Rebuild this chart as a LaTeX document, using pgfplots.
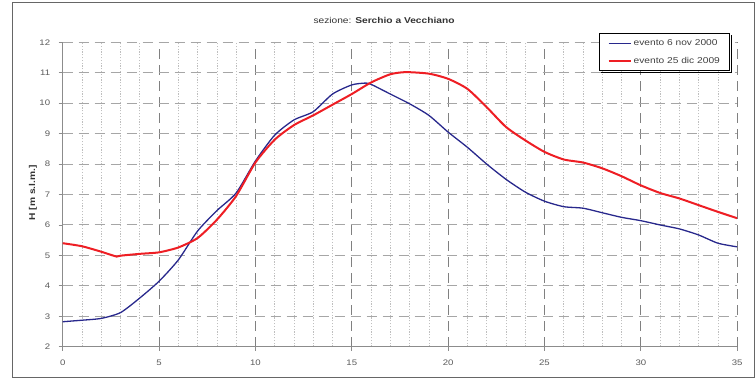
\documentclass[border=0pt]{standalone}
\usepackage{fontspec}
\setmainfont{Liberation Sans}[FakeStretch=1.2]
\usepackage{pgfplots}
\pgfplotsset{compat=1.18}
\definecolor{navy}{RGB}{40,40,140}
\definecolor{rossa}{RGB}{238,30,36}
\definecolor{tickgray}{RGB}{90,90,90}
\begin{document}
\begin{tikzpicture}[x=1pt,y=1pt]
\path[use as bounding box] (0,0) rectangle (756,378);
\draw[line width=1.4pt, color=black!60] (12.7,0.7) rectangle (754.3,375.3);
\node[font=\fontsize{8.5}{10}\selectfont, text=black!80] at (384,357.5) {sezione: \textbf{Serchio a Vecchiano}};
\node[rotate=90, font=\fontsize{8.5}{10}\selectfont\bfseries, text=black!80] at (33,185) {H [m s.l.m.]};
\begin{axis}[
  at={(62.7pt,31.3pt)}, anchor=south west,
  scale only axis, width=674.5pt, height=304.4pt,
  xmin=0, xmax=35, ymin=2, ymax=12,
  xtick={0,5,...,35}, ytick={2,3,...,12},
  minor x tick num=4,
  axis x line*=bottom, axis y line*=left,
  axis line style={black!45, line width=0.8pt, -},
  xmajorgrids, ymajorgrids, xminorgrids,
  major y grid style={black!35, line width=0.9pt, dash pattern=on 10pt off 6pt},
  major x grid style={black!50, line width=0.9pt, dash pattern=on 10pt off 6pt},
  minor x grid style={black!25, line width=0.6pt, dash pattern=on 1.2pt off 1.6pt},
  tick align=outside, major tick length=4pt, minor tick length=0pt,
  tick style={black!45, line width=0.8pt},
  ticklabel style={font=\fontsize{8}{9}\selectfont, text=tickgray},
  /pgf/number format/assume math mode=true,
  xticklabel style={yshift=-6pt},
  yticklabel style={xshift=-5pt},
  legend style={at={(0.7955,1.0296)}, anchor=north west, name=leg,
    draw=black, line width=0.8pt, fill=white,
    font=\fontsize{8.5}{10}\selectfont, text=black!75,
    inner xsep=8pt, inner ysep=4pt, row sep=6pt,
    nodes={inner xsep=2pt}},
  legend cell align=left,
  legend image code/.code={\draw[#1] (0pt,0pt) -- (22pt,0pt);},
]
\addplot[navy, line width=1.3pt, smooth, tension=0.4] coordinates {
(0,2.82) (1,2.87) (2,2.93) (3,3.12) (4,3.6) (5,4.15) (6,4.85) (7,5.8) (8,6.47)
(9,7.05) (10,8.1) (11,8.95) (12,9.45) (13,9.72) (14,10.3) (15,10.6) (15.7,10.66)
(16,10.62) (17,10.3) (18,9.98) (19,9.6) (20,9.05) (21,8.55) (22,8.0) (23,7.5)
(24,7.08) (25,6.78) (26,6.6) (27,6.55) (28,6.4) (29,6.25) (30,6.14) (31,6.0)
(32,5.87) (33,5.67) (34,5.4) (35,5.28)
};
\addlegendentry{evento 6 nov 2000}
\addplot[rossa, line width=2pt, smooth, tension=0.4] coordinates {
(0,5.4) (1,5.3) (2,5.12) (2.8,4.96) (3,4.99) (4,5.05) (5,5.1) (6,5.26) (7,5.57)
(8,6.17) (9,6.95) (10,8.05) (11,8.8) (12,9.28) (13,9.6) (14,9.95) (15,10.3)
(16,10.68) (17,10.95) (17.8,11.02) (19,10.97) (20,10.8) (21,10.47) (22,9.87)
(23,9.22) (24,8.78) (25,8.4) (26,8.15) (27,8.05) (28,7.86) (29,7.6) (30,7.3)
(31,7.05) (32,6.87) (33,6.65) (34,6.43) (35,6.22)
};
\addlegendentry{evento 25 dic 2009}
\end{axis}
\fill[black] ([xshift=0.4pt,yshift=-2.2pt]leg.north east) rectangle ([xshift=2.2pt,yshift=-2.2pt]leg.south east);
\fill[black] ([xshift=2.2pt,yshift=-0.4pt]leg.south west) rectangle ([xshift=2.2pt,yshift=-2.2pt]leg.south east);
\end{tikzpicture}
\end{document}
